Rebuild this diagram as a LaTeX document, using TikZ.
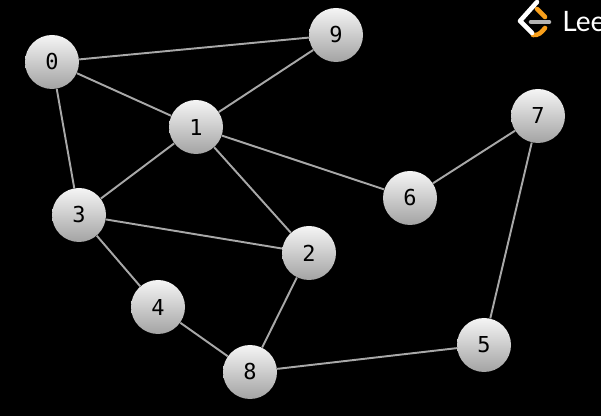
\documentclass[tikz,border=0pt]{standalone}
\usepackage{fontspec}
\setmonofont{DejaVu Sans Mono}
\setsansfont{Lato}
\usepackage{xcolor}
\usetikzlibrary{positioning,backgrounds}
\definecolor{lcEdge}{HTML}{A8A8A8}
\definecolor{lcOrange}{HTML}{F89F1B}
\definecolor{lcBar}{HTML}{B3B3B3}
\tikzset{
    graphnode/.style={circle,top color=black!4,bottom color=black!36,inner sep=0pt,minimum size=1.08cm,font=\ttfamily\fontsize{12.5}{14}\selectfont,text=black},
    graphedge/.style={draw=lcEdge,line width=1.1pt},
    logostroke/.style={line width=2.6pt,line cap=round,line join=round}
}

\begin{document}
\begin{tikzpicture}
  % Page and background
  \fill[black] (0,0) rectangle (12.02,8.32);
  \useasboundingbox (0,0) rectangle (12.02,8.32);

  % Graph nodes
  \node[graphnode] (n0) at (1.04,7.08) {0};
  \node[graphnode] (n1) at (3.92,5.78) {1};
  \node[graphnode] (n2) at (6.18,3.26) {2};
  \node[graphnode] (n3) at (1.58,4.02) {3};
  \node[graphnode] (n4) at (3.16,2.18) {4};
  \node[graphnode] (n5) at (9.68,1.42) {5};
  \node[graphnode] (n6) at (8.20,4.36) {6};
  \node[graphnode] (n7) at (10.76,6.00) {7};
  \node[graphnode] (n8) at (5.00,0.88) {8};
  \node[graphnode] (n9) at (6.72,7.62) {9};

  % Edges
  \draw[graphedge] (n0) -- (n9);
  \draw[graphedge] (n0) -- (n1);
  \draw[graphedge] (n0) -- (n3);
  \draw[graphedge] (n1) -- (n9);
  \draw[graphedge] (n1) -- (n3);
  \draw[graphedge] (n1) -- (n2);
  \draw[graphedge] (n1) -- (n6);
  \draw[graphedge] (n3) -- (n2);
  \draw[graphedge] (n3) -- (n4);
  \draw[graphedge] (n4) -- (n8);
  \draw[graphedge] (n2) -- (n8);
  \draw[graphedge] (n8) -- (n5);
  \draw[graphedge] (n6) -- (n7);
  \draw[graphedge] (n7) -- (n5);

  % Logo
  \draw[logostroke,lcBar] (10.62,7.88) -- (10.98,7.88);
  \draw[logostroke,lcOrange] (10.74,8.14) -- (10.90,7.98);
  \draw[logostroke,lcOrange] (10.66,7.62) .. controls (10.76,7.60) and (10.84,7.68) .. (10.90,7.76);
  \draw[logostroke,white] (10.74,8.28) -- (10.40,7.90) -- (10.64,7.66);
  \node[anchor=base west,inner sep=0pt,white,font=\sffamily\fontsize{16}{18}\selectfont] (logotext) at (11.24,7.68) {Lee};
\end{tikzpicture}
\end{document}
